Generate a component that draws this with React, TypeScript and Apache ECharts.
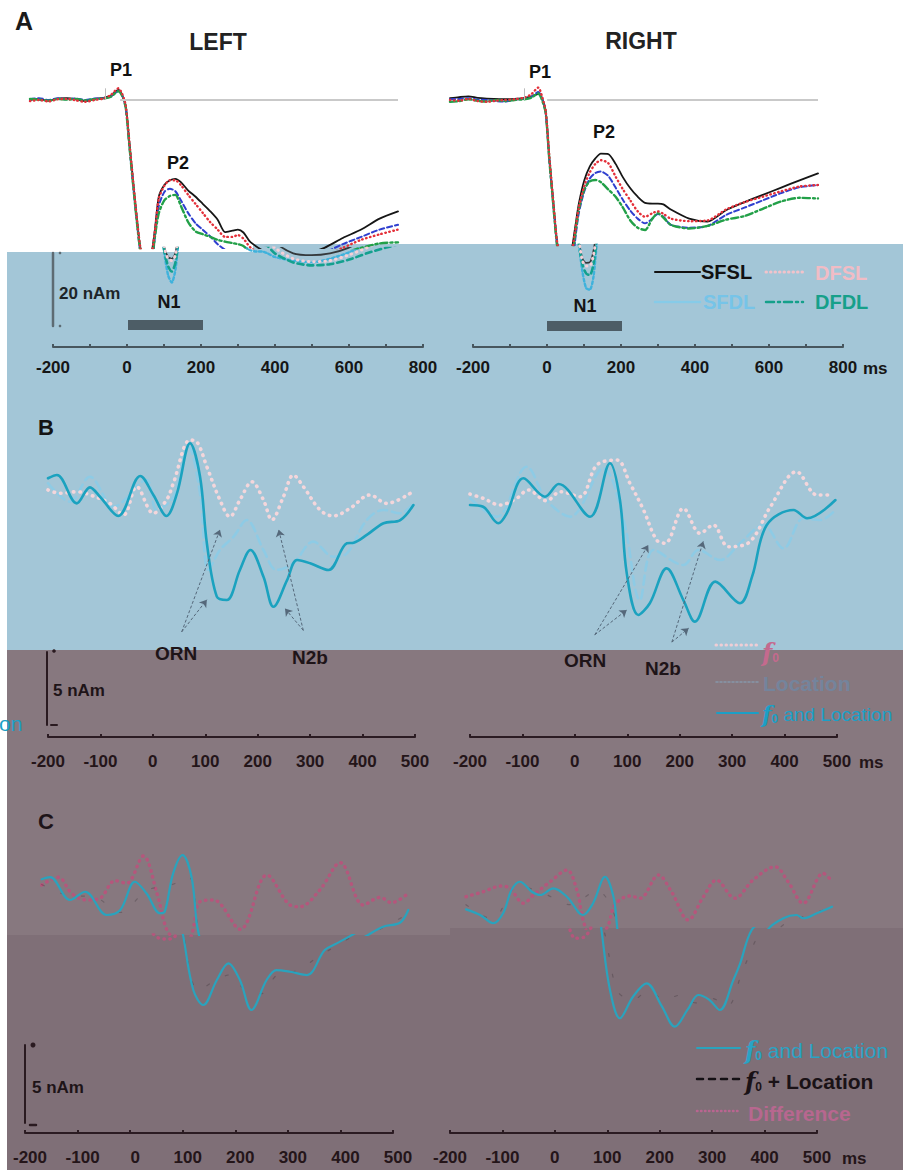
import React, { useEffect, useRef } from "react";
import * as echarts from "echarts";

type AnyObj = Record<string, any>;

// ================= DATA =================
// Panel A: source waveforms (time in ms, amplitude in nAm)
const aTimes = [-200, -175, -150, -125, -100, -75, -50, -25, 0, 20, 40, 50, 60, 70, 80, 90, 100, 110, 120, 130, 140, 150, 165, 180, 195, 210, 230, 250, 270, 290, 310, 330, 350, 365, 380, 400, 450, 500, 550, 600, 650, 700, 750, 800];

const aLeftSFSL = [0, 0.3, -0.3, 0.4, 0.5, 0.2, -0.3, 0.3, 0.6, 1.2, 2.8, 1.5, -1.5, -11.5, -22, -32, -40.5, -43, -43.5, -42, -35, -26.5, -23.3, -22.0, -21.6, -22.5, -24.8, -26.5, -28.5, -30.5, -32.8, -36.2, -35.8, -35.5, -36.3, -39, -42, -42.5, -42, -40.5, -37.8, -35.5, -32.5, -30.5];
const aLeftDFSL = [-0.3, 0, -0.4, 0.2, 0.3, -0.1, -0.5, 0, 0.4, 1.4, 3.2, 1.8, -1.5, -11.5, -22, -32, -40.5, -43.5, -44, -42.5, -35.5, -27, -23.5, -22.0, -22.0, -23.3, -26, -28.5, -31, -33.5, -35.5, -37.5, -37.5, -37, -38, -40.5, -43.5, -44.3, -44, -42.5, -40.5, -38.3, -36.8, -35.5];
const aLeftSFDL = [0.2, 0.5, 0, 0.5, 0.2, 0.4, 0, 0.4, 0.5, 1.0, 2.5, 1.3, -2, -12.5, -23, -33, -42, -48, -50, -46.5, -37, -29, -25.2, -24.3, -25, -27.5, -31, -33.8, -35.6, -37.4, -39.5, -41, -41.5, -41.5, -42, -43, -44, -44.5, -43.5, -41.8, -39.5, -37.5, -35.5, -34.2];
const aLeftDFDL = [0.3, 0.1, -0.2, 0.3, 0.1, 0.3, -0.1, 0.2, 0.4, 0.9, 2.4, 1.2, -2, -12.5, -23, -33, -41.5, -45.5, -47, -44.5, -37, -31, -27.5, -26.3, -26, -29, -33.5, -36, -36.8, -37.5, -38.3, -38.8, -39.2, -39.5, -40, -42, -44.5, -45.3, -45, -43.8, -42, -40.5, -39.3, -39];

const aRightSFSL = [0.5, 0.8, 1.0, 0.6, 0.4, 0.3, 0.2, 0.3, 0.5, 0.9, 1.6, 0.5, -3, -16, -27, -38, -43.5, -44.6, -44.5, -41.5, -35, -28.5, -22, -18.2, -16, -14.7, -14.8, -17.5, -21.2, -24.2, -26.5, -28.2, -28.4, -28.4, -28.6, -30, -32.5, -33.3, -30.2, -28, -26, -24, -22, -20.1];
const aRightDFSL = [0, -0.2, 0.3, -0.3, -0.5, -0.2, 0, 0.2, 0.6, 1.5, 3.4, 1.0, -3, -15.5, -27, -38, -44, -45.5, -45.5, -42.5, -36, -29.5, -23.5, -19.8, -17.5, -16.5, -17.3, -21, -24.5, -27.5, -30.5, -32, -31, -30.5, -31.2, -32.5, -33.2, -33, -30, -28, -26.5, -25, -23.7, -23.3];
const aRightSFDL = [0.2, 0.3, 0.5, 0.1, 0, -0.3, -0.4, 0.1, 0.3, 0.8, 2.2, 0.5, -3.5, -16.5, -28, -39, -47, -51.5, -52, -48.5, -38.5, -31, -25, -21.5, -20, -19.6, -20.8, -24, -27.4, -30.3, -32.5, -33.8, -32.5, -31.2, -32, -34.2, -35, -34.5, -31.5, -29.5, -27.5, -25.5, -23.9, -23.3];
const aRightDFDL = [-0.5, -0.3, 0.2, -0.2, -0.4, 0, -0.3, 0, 0.2, 0.6, 1.8, 0, -3.5, -16.5, -28, -39, -45, -47.5, -48, -45, -37, -30, -24.5, -22.3, -21.9, -22.5, -24.5, -26.5, -29.5, -33, -35, -35.6, -32.5, -31, -32.2, -34.2, -35.2, -34.5, -32.8, -31.8, -29.8, -27.8, -26.8, -27];

const aNames = ["SFSL", "DFSL", "SFDL", "DFDL"];
const aLabelStep = 200;

// Panel B: [ms, nAm]
const bLeftBoth = [[-200, 1.72], [-183, 1.95], [-145, 0.0], [-120, 1.10], [-100, 0.42], [-66, -0.86], [-24, 1.88], [1, 0.58], [26, -0.86], [46, 0.69], [71, 4.12], [90, 1.83], [103, -2.73], [122, -6.39], [141, -6.62], [166, -4.56], [186, -3.19], [211, -5.03], [230, -7.08], [256, -5.25], [275, -3.88], [300, -4.10], [335, -4.56], [370, -2.73], [383, -2.69], [408, -2.16], [440, -1.36], [472, -1.14], [497, -0.11]];
const bLeftF0 = [[-200, 0.92], [-177, 0.69], [-145, 0.80], [-120, 0.58], [-82, 0.0], [-56, -0.79], [-31, 1.15], [1, -0.68], [26, 0.23], [39, 1.38], [71, 4.34], [84, 4.22], [103, 2.51], [128, 0.23], [147, -0.91], [166, 0.23], [189, 1.48], [211, 0.23], [227, -1.13], [249, 0.46], [268, 1.94], [287, 1.15], [319, -0.45], [344, -0.86], [376, -0.34], [414, 0.58], [446, 0.0], [491, 0.69]];
const bLeftLoc = [[-200, 1.38], [-158, 0.12], [-120, 1.83], [-75, -0.23], [-12, 1.60], [7, -0.45], [39, 0.46], [68, 3.88], [90, 0.69], [106, -4.56], [128, -3.19], [154, -2.28], [179, -1.14], [211, -3.19], [236, -4.56], [268, -4.10], [306, -2.62], [344, -3.65], [370, -3.42], [408, -1.14], [440, -0.45], [472, -0.68], [497, 0.0]];
const bRightBoth = [[-200, -0.11], [-175, -0.23], [-146, -1.36], [-130, -0.68], [-98, 1.72], [-57, 0.46], [-31, 1.33], [29, -0.91], [67, 2.75], [86, 0.23], [99, -4.79], [121, -7.64], [143, -6.84], [175, -4.45], [207, -6.62], [229, -8.10], [268, -5.36], [315, -6.84], [338, -5.02], [366, -1.48], [417, -0.45], [443, -1.02], [497, 0.23]];
const bRightF0 = [[-200, 0.64], [-175, 0.35], [-143, -0.11], [-111, 0.35], [-89, 0.92], [-54, 0.18], [-28, 0.80], [10, 0.46], [42, 2.63], [80, 2.97], [105, 1.38], [131, -0.45], [156, -2.51], [172, -2.73], [207, -0.34], [239, -2.05], [264, -1.48], [293, -2.97], [334, -2.62], [373, -0.23], [423, 2.17], [462, 0.58], [493, 0.58]];
const bRightLoc = [[-200, 0.35], [-149, -0.91], [-92, 2.51], [-54, 0.23], [-9, -0.91], [54, 2.40], [93, -1.14], [124, -6.62], [150, -3.19], [207, -4.22], [236, -3.19], [277, -3.88], [315, -2.73], [360, -1.48], [398, -3.08], [436, -1.02], [468, -1.14], [497, -0.45]];
// arrow annotations (ORN, N2b) in data units: [from, to]
const bLeftArrows = [[[55, -8.8], [128, -1.8]], [[55, -8.8], [103, -6.6]], [[287, -8.7], [240, -1.8]], [[287, -8.7], [252, -7.2]]];
const bRightArrows = [[[38, -9.0], [140, -2.85]], [[38, -9.0], [99, -7.3]], [[185, -9.5], [245, -2.6]], [[185, -9.5], [217, -8.55]]];

// Panel C: [ms, nAm]
const cLeftBoth = [[-200, 1.33], [-184, 1.46], [-146, 0.0], [-117, 0.53], [-76, -0.96], [-50, -0.64], [-22, 1.17], [0, 0.43], [26, -0.85], [35, -0.75], [51, 1.71], [69, 2.88], [86, 1.49], [96, -1.49], [101, -2.35], [120, -5.77], [139, -6.73], [165, -5.13], [187, -4.06], [209, -5.13], [231, -7.05], [260, -5.13], [279, -4.49], [305, -4.60], [337, -4.81], [371, -3.21], [394, -2.78], [420, -2.3], [452, -1.71], [484, -1.46], [500, -0.64]];
const cLeftSum = [[-200, 1.0], [-150, 0.3], [-100, 0.2], [-50, -0.8], [0, 0.6], [50, 1.0], [80, 1.5], [100, -2], [130, -5.8], [160, -5.2], [190, -4.8], [220, -5.8], [250, -6.0], [280, -4.8], [320, -4.5], [360, -3.6], [400, -2.8], [450, -1.8], [500, -0.9]];
const cLeftDiff = [[-200, 0.96], [-168, 1.46], [-143, 0.43], [-114, 0.0], [-89, 0.11], [-60, 1.24], [-38, 1.07], [-6, 2.82], [20, 0.43], [39, -1.92], [55, -2.45], [70, -2.5], [85, -2.35], [102, -0.11], [128, 0.0], [179, -1.88], [230, 1.60], [274, -0.32], [293, -0.43], [331, 0.64], [370, 2.39], [414, -0.32], [446, 0.17], [468, -0.17], [500, 0.43]];
const cRightBoth = [[-200, -0.60], [-173, -0.96], [-148, -1.49], [-129, -0.85], [-113, 0.64], [-97, 1.17], [-74, 0.53], [-58, 0.32], [-33, 0.75], [-7, 0.21], [24, -0.96], [43, -0.21], [66, 1.49], [82, 0.21], [90, -2.0], [106, -5.77], [125, -7.58], [150, -6.2], [176, -5.34], [205, -6.8], [230, -8.12], [255, -7.0], [275, -6.09], [296, -6.4], [316, -7.05], [342, -5.13], [355, -4.06], [377, -1.92], [407, -1.17], [432, -0.96], [445, -1.17], [471, -0.85], [500, -0.43]];
const cRightSum = [[-200, -0.3], [-150, -1.2], [-100, 0.9], [-50, 0.4], [0, -0.3], [50, 0.6], [90, -1.5], [120, -5.8], [150, -6.4], [180, -5.8], [210, -6.4], [240, -6.1], [270, -6.6], [300, -6.3], [330, -6.8], [360, -4.5], [400, -1.8], [450, -1.0], [500, -0.5]];
const cRightDiff = [[-200, 0.21], [-167, 0.53], [-132, 0.90], [-116, 0.75], [-90, -0.21], [-71, 0.32], [-39, 1.17], [-7, 1.92], [12, 0.64], [24, -1.28], [40, -2.45], [55, -2.4], [72, -1.6], [85, -0.3], [114, 0.26], [133, 0.11], [168, 1.60], [193, 0.53], [225, -1.28], [254, 0.21], [279, 1.28], [314, 0.11], [349, 1.28], [391, 2.13], [416, 1.17], [445, -0.21], [483, 1.71], [499, 1.24]];

// ================= STYLE / LAYOUT =================
const FONT = '"Liberation Sans", Arial, Helvetica, sans-serif';
const BLUE = "#a3c6d7";
const MAUVE = "#87787f";
const MAUVE_DARK = "#7f6f77";

const aUpperStyle = [
  { color: "#161616", width: 1.8, type: "solid" },
  { color: "#e4303a", width: 2.4, type: [0.5, 3.5] },
  { color: "#2f3fcf", width: 2, type: [5, 3] },
  { color: "#22a048", width: 2.4, type: [7, 3, 2, 3] },
];
const aLowerStyle = [
  { color: "#34393c", width: 1.8, type: "solid" },
  { color: "#f5cfd6", width: 3, type: [0.5, 5] },
  { color: "#3fb2dc", width: 2.4, type: [2.5, 2.5] },
  { color: "#13a08e", width: 2.6, type: [6, 4] },
];

const yr = (topPx: number, botPx: number, zeroPx: number, scale: number): [number, number] => [
  (zeroPx - botPx) / scale,
  (zeroPx - topPx) / scale,
];

function buildOption() {
  const grid: AnyObj[] = [];
  const xAxis: AnyObj[] = [];
  const yAxis: AnyObj[] = [];
  const series: AnyObj[] = [];

  const addGrid = (left: number, top: number, width: number, height: number, xr: number[], yrr: number[], visX?: AnyObj) => {
    const i = grid.length;
    grid.push({ left, top, width, height, containLabel: false, outerBoundsMode: "none", show: false });
    xAxis.push(visX ? { ...visX, gridIndex: i, min: xr[0], max: xr[1] } : { type: "value", gridIndex: i, min: xr[0], max: xr[1], show: false });
    yAxis.push({ type: "value", gridIndex: i, min: yrr[0], max: yrr[1], show: false });
    return i;
  };

  const visAxis = (color: string, labelColor: string, margin: number, fmt: (v: number) => string, padding?: number[]) => ({
    type: "value",
    show: true,
    position: "bottom",
    interval: 100,
    axisLine: { show: true, onZero: false, lineStyle: { color, width: 2 } },
    axisTick: { show: true, inside: true, length: 3, lineStyle: { color, width: 2 } },
    minorTick: { show: false },
    splitLine: { show: false },
    axisLabel: {
      show: true, color: labelColor, fontSize: 17, fontWeight: "bold", fontFamily: FONT, margin,
      formatter: fmt, showMinLabel: true, showMaxLabel: true, ...(padding ? { padding } : {}),
    },
  });

  const line = (name: string, data: number[][], gi: number, st: AnyObj, extra: AnyObj = {}) => ({
    type: "line", name, data, xAxisIndex: gi, yAxisIndex: gi, symbol: "none", showSymbol: false,
    smooth: 0.35, clip: true, silent: true, z: 3, emphasis: { disabled: true },
    lineStyle: { color: st.color, width: st.width, type: st.type, cap: "round", join: "round", opacity: st.opacity ?? 1 },
    ...extra,
  });

  const zip = (t: number[], v: number[]) => t.map((x, i) => [x, v[i]]);

  // ---------- Panel A ----------
  const A_ZERO = 100, A_SCALE = 3.65, A_TOP = 27, A_BOT = 319;
  const aPanels = [
    { vals: [aLeftSFSL, aLeftDFSL, aLeftSFDL, aLeftDFDL], left: 30, cut: 248, shift: 24, base: 45, mark: 4 },
    { vals: [aRightSFSL, aRightDFSL, aRightSFDL, aRightDFDL], left: 450, cut: 245, shift: 22, base: 64, mark: 1 },
  ];
  aPanels.forEach((p) => {
    const gu = addGrid(p.left, A_TOP, 368, p.cut - A_TOP, [-200, 800], yr(A_TOP, p.cut, A_ZERO, A_SCALE));
    const gl = addGrid(p.left + p.shift, p.cut, 368, A_BOT - p.cut, [-200, 800], yr(p.cut, A_BOT, A_ZERO, A_SCALE));
    [0, 2, 3, 1].forEach((k) => {
      const d = zip(aTimes, p.vals[k]);
      const extra: AnyObj = { smooth: 0.25 };
      if (k === 0) {
        extra.markLine = {
          silent: true, symbol: ["none", "none"], label: { show: false }, emphasis: { disabled: true },
          lineStyle: { color: "#c9c9c9", width: 2, type: "solid" },
          data: [
            [{ coord: [p.base, 0] }, { coord: [800, 0] }],
            [{ coord: [p.mark, 0], lineStyle: { color: "#bdbdbd", width: 1, type: "solid" } }, { coord: [p.mark, 3.2] }],
          ],
        };
      }
      series.push(line(aNames[k], d, gu, aUpperStyle[k], extra));
      series.push(line(aNames[k], d, gl, aLowerStyle[k], { smooth: 0.25 }));
    });
  });
  const aFmt = (v: number) => (v % aLabelStep === 0 ? String(v) : "");
  addGrid(53, 300, 370, 47, [-200, 800], [0, 1], visAxis("#47565e", "#161616", 12, aFmt));
  addGrid(473, 300, 370, 47, [-200, 800], [0, 1], visAxis("#47565e", "#161616", 12, aFmt));

  // ---------- Panel B ----------
  const bTeal = { color: "#1ba2bf", width: 2.6, type: "solid" };
  const bPink = { color: "#f4d6db", width: 3.6, type: [0.5, 6] };
  const bLoc = { color: "#8ecbe5", width: 2.6, type: [9, 5] };
  const arrowML = (arr: number[][][]) => ({
    silent: true, symbol: ["none", "arrow"], symbolSize: 7, label: { show: false }, emphasis: { disabled: true },
    lineStyle: { color: "#55687a", width: 1, type: [3, 2] },
    data: arr.map(([a, b]) => [{ coord: a }, { coord: b }]),
  });
  const bPanels = [
    { left: 48, both: bLeftBoth, f0: bLeftF0, loc: bLeftLoc, arrows: bLeftArrows },
    { left: 470, both: bRightBoth, f0: bRightF0, loc: bRightLoc, arrows: bRightArrows },
  ];
  bPanels.forEach((p) => {
    const g = addGrid(p.left, 415.8, 367, 321.2, [-200, 500], [-16, 6], visAxis("#2b1b22", "#241519", 16, (v) => String(v)));
    series.push(line("Location", p.loc, g, bLoc));
    series.push(line("f0", p.f0, g, bPink));
    series.push(line("f0 and Location", p.both, g, bTeal, { markLine: arrowML(p.arrows) }));
  });

  // ---------- Panel C ----------
  const C_ZERO = 900, C_SCALE = 15.6, C_TOP = 790, C_BOT = 1040;
  const cTeal = { color: "#2aa3bd", width: 2.2, type: "solid" };
  const cPink = { color: "#b5567c", width: 3.4, type: [0.5, 5.5] };
  const cSum = { color: "#151015", width: 1.2, type: [3, 18], opacity: 0.22 };
  const cPanels = [
    { left: 41.7, width: 366.6, cut: 935, both: cLeftBoth, sum: cLeftSum, diff: cLeftDiff },
    { left: 466, width: 366, cut: 928, both: cRightBoth, sum: cRightSum, diff: cRightDiff },
  ];
  cPanels.forEach((p) => {
    const gu = addGrid(p.left, C_TOP, p.width, p.cut - C_TOP, [-200, 500], yr(C_TOP, p.cut, C_ZERO, C_SCALE));
    const gl = addGrid(p.left - 16, p.cut, p.width, C_BOT - p.cut, [-200, 500], yr(p.cut, C_BOT, C_ZERO, C_SCALE));
    [gu, gl].forEach((g) => {
      series.push(line("Difference", p.diff, g, cPink));
      series.push(line("f0 + Location", p.sum, g, cSum));
      series.push(line("f0 and Location", p.both, g, cTeal));
    });
  });
  addGrid(25, 1090, 368, 43, [-200, 500], [0, 1], visAxis("#2b1b22", "#241519", 16, (v) => String(v), [0, 0, 0, 10]));
  addGrid(450, 1090, 367, 43, [-200, 500], [0, 1], visAxis("#2b1b22", "#241519", 16, (v) => String(v)));

  // ---------- graphic annotations ----------
  const rect = (x: number, y: number, w: number, h: number, fill: string, z = -10) => ({
    type: "rect", silent: true, z, shape: { x, y, width: w, height: h }, style: { fill },
  });
  const seg = (x1: number, y1: number, x2: number, y2: number, stroke: string, lineWidth: number, lineDash?: number[]) => ({
    type: "line", silent: true, z: 40, shape: { x1, y1, x2, y2 },
    style: { stroke, lineWidth, lineCap: "round", ...(lineDash ? { lineDash } : {}) },
  });
  const dot = (cx: number, cy: number, r: number, fill: string) => ({
    type: "circle", silent: true, z: 40, shape: { cx, cy, r }, style: { fill },
  });
  const T = (text: string, x: number, y: number, o: AnyObj = {}) => {
    const style: AnyObj = {
      text, fill: o.fill ?? "#111", fontSize: o.size ?? 18, fontWeight: o.weight ?? "bold",
      fontFamily: o.family ?? FONT, fontStyle: o.fstyle ?? "normal",
      align: o.align ?? "center", verticalAlign: "middle",
      textAlign: o.align ?? "center", textVerticalAlign: "middle",
    };
    if (o.rich) style.rich = o.rich;
    return { type: "text", x, y, z: 50, silent: true, style };
  };
  const f0Rich = (fill: string, size = 24) => ({
    f: { fontFamily: '"DejaVu Serif", "Liberation Serif", serif', fontStyle: "italic", fontWeight: "bold", fontSize: size, fill },
    s: { fontFamily: FONT, fontSize: 12, fontWeight: "bold", fill, verticalAlign: "bottom" },
  });

  const graphic: AnyObj[] = [
    // background bands
    rect(7, 252, 246, 398, BLUE),
    rect(253, 244, 650, 406, BLUE),
    rect(7, 650, 896, 520, MAUVE),
    rect(7, 935, 443, 235, MAUVE_DARK),
    rect(450, 928, 453, 242, MAUVE_DARK),

    // Panel A texts
    T("A", 24, 21, { size: 25, fill: "#1a1a1a" }),
    T("LEFT", 218, 42, { size: 23, fill: "#222" }),
    T("RIGHT", 641, 41, { size: 23, fill: "#222" }),
    T("P1", 121, 70, { size: 18, fill: "#111" }),
    T("P2", 178, 163, { size: 18, fill: "#111" }),
    T("N1", 169, 302, { size: 18, fill: "#141414" }),
    T("P1", 540, 72, { size: 18, fill: "#111" }),
    T("P2", 604, 132, { size: 18, fill: "#111" }),
    T("N1", 585, 306, { size: 18, fill: "#141414" }),
    T("20 nAm", 59, 293, { size: 17, align: "left", fill: "#1d2428" }),
    T("ms", 863, 368, { size: 17, align: "left", fill: "#161616" }),
    seg(53, 253, 53, 326, "#5d6b73", 2.5),
    dot(60, 253, 1.3, "#5d6b73"),
    dot(60, 326, 1.3, "#5d6b73"),
    rect(128, 320, 75, 10, "#4d5d66", 30),
    rect(547, 321, 75, 10, "#4d5d66", 30),
    // Panel A legend
    seg(655, 272, 700, 272, "#111", 2),
    T("SFSL", 701, 272, { size: 20, align: "left", fill: "#111" }),
    seg(766, 272, 803, 272, "#f2c3cb", 3, [0.5, 4]),
    T("DFSL", 815, 273, { size: 20, align: "left", fill: "#f1bcc5" }),
    seg(655, 302, 700, 302, "#86cbe8", 2.5, [2, 2]),
    T("SFDL", 703, 302, { size: 20, align: "left", fill: "#76c4e8" }),
    seg(766, 302, 803, 302, "#14a08a", 2.5, [8, 4, 2, 4]),
    T("DFDL", 815, 302, { size: 20, align: "left", fill: "#16a08a" }),

    // Panel B texts
    T("B", 46, 427, { size: 22, fill: "#141414" }),
    T("ORN", 176, 653, { size: 19, fill: "#1e1418" }),
    T("N2b", 310, 657, { size: 19, fill: "#1e1418" }),
    T("ORN", 585, 660, { size: 19, fill: "#1e1418" }),
    T("N2b", 663, 668, { size: 19, fill: "#1e1418" }),
    T("5 nAm", 53, 690, { size: 17, align: "left", fill: "#1e1418" }),
    T("ms", 859, 762, { size: 17, align: "left", fill: "#241519" }),
    seg(47, 652, 47, 725, "#2a1a20", 2),
    dot(54, 651, 1.8, "#2a1a20"),
    seg(51, 725, 57, 725, "#2a1a20", 2),
    // Panel B legend
    seg(716, 645, 758, 645, "#f0cdd5", 3, [0.5, 4.5]),
    T("{f|f}{s|0}", 762, 652, { size: 20, align: "left", fill: "#c46a8e", rich: f0Rich("#c46a8e") }),
    seg(716, 682, 758, 682, "#8796ab", 1.5, [2, 2]),
    T("Location", 763, 683, { size: 21, align: "left", fill: "#74849c" }),
    seg(717, 713, 758, 713, "#1b9fc6", 2),
    T("{f|f}{s|0} and Location", 762, 714, { size: 19, weight: "normal", align: "left", fill: "#1b9fc6", rich: f0Rich("#1b9fc6", 22) }),
    T("on", -1, 723, { size: 21, weight: "normal", align: "left", fill: "#1b9fc6" }),

    // Panel C texts
    T("C", 46, 821, { size: 22, fill: "#1e1418" }),
    T("5 nAm", 32, 1087, { size: 17, align: "left", fill: "#1e1418" }),
    T("ms", 842, 1158, { size: 17, align: "left", fill: "#241519" }),
    seg(25, 1045, 25, 1123, "#2a1a20", 2),
    dot(33, 1045, 2.5, "#2a1a20"),
    seg(30, 1125, 36, 1125, "#2a1a20", 2.5),
    // Panel C legend
    seg(697, 1048, 740, 1048, "#2aa3bd", 2),
    T("{f|f}{s|0} and Location", 745, 1050, { size: 21, weight: "normal", align: "left", fill: "#2aa3c4", rich: f0Rich("#2aa3c4") }),
    seg(697, 1079, 740, 1079, "#141014", 2.5, [6, 6]),
    T("{f|f}{s|0} + Location", 745, 1081, { size: 21, align: "left", fill: "#1a1216", rich: f0Rich("#1a1216") }),
    seg(697, 1111, 738, 1111, "#b96590", 2.5, [0.5, 3.5]),
    T("Difference", 748, 1113, { size: 21, align: "left", fill: "#b7678f" }),
  ];

  return {
    animation: false,
    backgroundColor: "#ffffff",
    textStyle: { fontFamily: FONT },
    grid, xAxis, yAxis, series, graphic,
  };
}

export default function App() {
  const ref = useRef<HTMLDivElement>(null);
  useEffect(() => {
    if (!ref.current) return;
    const chart = echarts.init(ref.current, undefined, { renderer: "svg" });
    chart.setOption(buildOption() as any);
    return () => chart.dispose();
  }, []);
  return (
    <div
      ref={ref}
      style={{ position: "absolute", left: 0, top: 0, width: 903, height: 1170, background: "#fff" }}
    />
  );
}
